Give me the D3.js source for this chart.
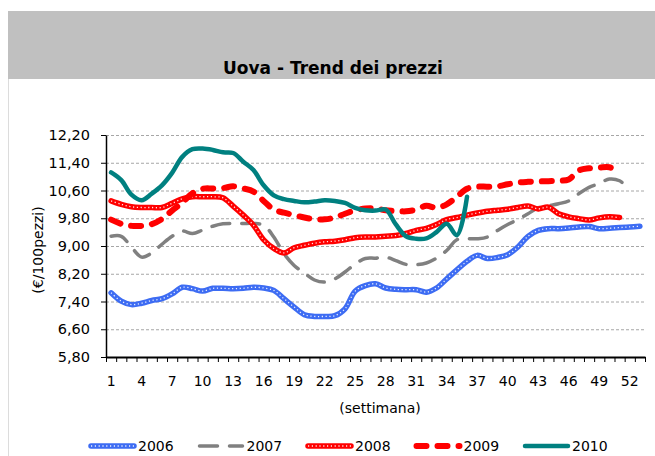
<!DOCTYPE html>
<html>
<head>
<meta charset="utf-8">
<script src="https://cdn.jsdelivr.net/npm/d3@7/dist/d3.min.js"></script>
<style>
  body { margin: 0; background: #fff; }
  svg { display: block; font-family: "DejaVu Sans", Verdana, sans-serif; }
</style>
</head>
<body>
<svg width="655" height="456"></svg>
<script>
// settimane 1..53 e valori (€/100 pezzi)
var weeks = d3.range(1, 54);
var xLabels = [1, 4, 7, 10, 13, 16, 19, 22, 25, 28, 31, 34, 37, 40, 43, 46, 49, 52];
var yTicks = [5.8, 6.6, 7.4, 8.2, 9.0, 9.8, 10.6, 11.4, 12.2];
var years = ["2006", "2007", "2008", "2009", "2010"];

var s2006 = [7.65, 7.41, 7.31, 7.35, 7.43, 7.48, 7.62, 7.81, 7.77, 7.70, 7.78, 7.78, 7.77,
  7.78, 7.81, 7.79, 7.72, 7.48, 7.24, 7.02, 6.97, 6.97, 6.99, 7.19, 7.70, 7.86,
  7.91, 7.79, 7.75, 7.74, 7.74, 7.67, 7.79, 8.05, 8.31, 8.56, 8.73, 8.64, 8.67,
  8.75, 8.97, 9.28, 9.45, 9.50, 9.50, 9.52, 9.55, 9.56, 9.50, 9.51, 9.53, 9.55, 9.57];
var s2007 = [9.28, 9.28, 8.97, 8.68, 8.80, 9.05, 9.28, 9.43, 9.36, 9.46, 9.57, 9.64, 9.65,
  9.65, 9.65, 9.60, 9.26, 8.78, 8.44, 8.22, 8.02, 7.96, 8.05, 8.25, 8.48, 8.64,
  8.65, 8.68, 8.58, 8.47, 8.46, 8.51, 8.65, 8.87, 9.18, 9.21, 9.21, 9.26, 9.45,
  9.62, 9.76, 9.93, 10.10, 10.16, 10.22, 10.30, 10.51, 10.69, 10.80, 10.93, 10.88, 10.62];
var s2008 = [10.30, 10.20, 10.13, 10.11, 10.11, 10.11, 10.23, 10.36, 10.42, 10.42, 10.42, 10.39, 10.15,
  9.89, 9.60, 9.18, 8.93, 8.80, 8.95, 9.02, 9.08, 9.12, 9.14, 9.18, 9.24, 9.26,
  9.26, 9.28, 9.30, 9.36, 9.45, 9.51, 9.62, 9.76, 9.82, 9.89, 9.95, 10.00, 10.03,
  10.06, 10.11, 10.15, 10.07, 10.12, 9.93, 9.84, 9.79, 9.75, 9.81, 9.84, 9.82];
var s2009 = [9.76, 9.64, 9.58, 9.58, 9.63, 9.78, 10.02, 10.25, 10.52, 10.65, 10.66, 10.67, 10.72,
  10.66, 10.57, 10.30, 10.05, 9.96, 9.89, 9.82, 9.77, 9.77, 9.82, 9.93, 10.03, 10.08,
  10.08, 10.03, 10.01, 10.00, 10.05, 10.16, 10.10, 10.20, 10.42, 10.65, 10.71, 10.71, 10.72,
  10.78, 10.83, 10.85, 10.86, 10.87, 10.88, 10.92, 11.18, 11.24, 11.26, 11.27, 11.12];
var s2010 = [11.12, 10.90, 10.48, 10.32, 10.51, 10.75, 11.11, 11.57, 11.79, 11.81, 11.77, 11.70, 11.68,
  11.43, 11.19, 10.75, 10.46, 10.35, 10.30, 10.26, 10.28, 10.32, 10.30, 10.24, 10.10, 10.03,
  10.02, 10.05, 9.62, 9.28, 9.21, 9.22, 9.40, 9.64, 9.31, 10.42];

var values = [s2006, s2007, s2008, s2009, s2010];

// stile delle linee per anno
var stili = {
  "2006": { color: "#3d6cf3", width: 5.5, dash: null, dots: true, cap: "round" },
  "2007": { color: "#808080", width: 3.5, dash: "18,12", dots: false, cap: "round" },
  "2008": { color: "#ff0000", width: 5.5, dash: null, dots: true, cap: "round" },
  "2009": { color: "#ff0000", width: 6, dash: "10,11", dots: false, cap: "round" },
  "2010": { color: "#008080", width: 4.5, dash: null, dots: false, cap: "round" }
};

var svg = d3.select("svg");
var plot = { left: 106, right: 645, top: 135, bottom: 357 };

var x = d3.scaleBand().domain(weeks).range([plot.left, plot.right]);
var xb = d3.scaleLinear().domain([0, weeks.length]).range([plot.left, plot.right]);
var y = d3.scaleLinear().domain([5.8, 12.2]).range([plot.bottom, plot.top]);
var cx = function (w) { return x(w) + x.bandwidth() / 2; };

var it = d3.formatLocale({ decimal: ",", thousands: ".", grouping: [3], currency: ["€", ""] });
var fmt = it.format(".2f");

// bordo foglio a sinistra e fascia del titolo
svg.append("line")
  .attr("x1", 8.5).attr("x2", 8.5).attr("y1", 79).attr("y2", 456)
  .attr("stroke", "#dcdcdc");
svg.append("rect")
  .attr("x", 8).attr("y", 11).attr("width", 647).attr("height", 68)
  .attr("fill", "#c0c0c0");
svg.append("text")
  .attr("x", 333).attr("y", 74)
  .attr("text-anchor", "middle")
  .attr("font-size", 17).attr("font-weight", "bold")
  .text("Uova - Trend dei prezzi");

// griglia
svg.append("g")
  .attr("transform", "translate(" + plot.left + ",0)")
  .call(d3.axisLeft(y).tickValues(yTicks.slice(1)).tickSize(-(plot.right - plot.left)).tickFormat(""))
  .call(function (g) { g.select(".domain").remove(); })
  .selectAll("line")
  .attr("stroke", "#a6a6a6")
  .attr("stroke-dasharray", "3,2");

// asse y
var yAx = svg.append("g")
  .attr("transform", "translate(" + plot.left + ",0)")
  .call(d3.axisLeft(y).tickValues(yTicks).tickSize(5).tickSizeOuter(0).tickPadding(11).tickFormat(fmt));
yAx.select(".domain").attr("stroke", "#000").attr("stroke-width", 1.5);
yAx.selectAll("text").attr("font-size", 14.5).attr("fill", "#000").attr("font-family", "DejaVu Sans");

// asse x: tacche ai bordi delle categorie, etichette al centro
var xAx = svg.append("g")
  .attr("transform", "translate(0," + plot.bottom + ")")
  .call(d3.axisBottom(xb).tickValues(d3.range(0, weeks.length + 1)).tickSize(5).tickSizeOuter(0).tickFormat(""));
xAx.select(".domain").attr("stroke", "#000").attr("stroke-width", 2);

var xLab = svg.append("g")
  .attr("transform", "translate(0," + plot.bottom + ")")
  .call(d3.axisBottom(x).tickValues(xLabels).tickSize(0).tickPadding(19));
xLab.select(".domain").remove();
xLab.selectAll("text").attr("font-size", 14).attr("fill", "#000").attr("font-family", "DejaVu Sans");

// titoli assi
svg.append("text")
  .attr("transform", "translate(43,250) rotate(-90)")
  .attr("text-anchor", "middle")
  .attr("font-size", 14)
  .text("(€/100pezzi)");
svg.append("text")
  .attr("x", 380).attr("y", 413)
  .attr("text-anchor", "middle")
  .attr("font-size", 14)
  .text("(settimana)");

// linee
var line = d3.line()
  .x(function (d, i) { return cx(weeks[i]); })
  .y(function (d) { return y(d); })
  .curve(d3.curveCatmullRom.alpha(0.5));

function disegna(g, st, path) {
  var p = g.append("path")
    .attr("d", path)
    .attr("fill", "none")
    .attr("stroke", st.color)
    .attr("stroke-width", st.width)
    .attr("stroke-linecap", st.cap)
    .attr("stroke-linejoin", "round");
  if (st.dash) p.attr("stroke-dasharray", st.dash);
  if (st.dots) {
    g.append("path")
      .attr("d", path)
      .attr("fill", "none")
      .attr("stroke", "#fff")
      .attr("stroke-width", 1.3)
      .attr("stroke-dasharray", "1.2,2.6")
      .attr("opacity", 0.9);
  }
}

var serie = svg.append("g");
years.forEach(function (yr, i) {
  disegna(serie.append("g").attr("class", "s" + yr), stili[yr], line(values[i]));
});

// legenda
var leg = svg.append("g").attr("transform", "translate(89,446)");
years.forEach(function (yr, i) {
  var g = leg.append("g").attr("transform", "translate(" + (i * 108.5) + ",0)");
  disegna(g, stili[yr], "M2,0H45");
  g.append("text")
    .attr("x", 49).attr("y", 5)
    .attr("font-size", 14)
    .text(yr);
});
</script>
</body>
</html>
